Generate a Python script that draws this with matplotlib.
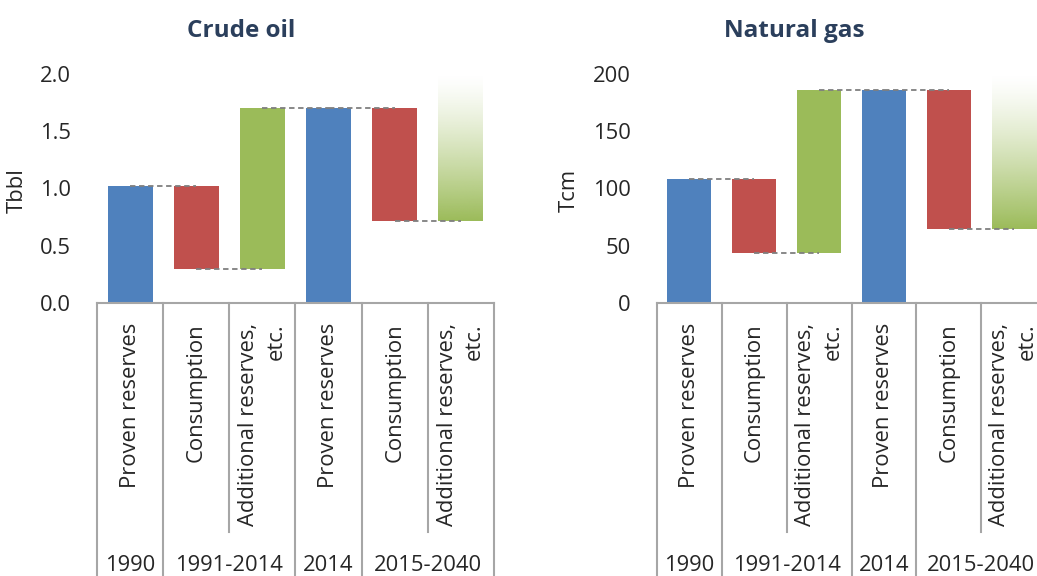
import numpy as np
import matplotlib
matplotlib.use("Agg")
import matplotlib.pyplot as plt
from matplotlib.colors import to_rgb

plt.rcParams['font.family'] = ['Open Sans', 'DejaVu Sans']

# Data: waterfall steps (bottom, top) for each category
categories = ["Proven reserves", "Consumption", "Additional reserves,\netc.",
              "Proven reserves", "Consumption", "Additional reserves,\netc."]
periods = ["1990", "1991-2014", "2014", "2015-2040"]
period_pos = [0, 1.5, 3, 4.5]

oil_bottom = [0.0, 0.30, 0.30, 0.0, 0.72, 0.72]
oil_top = [1.02, 1.02, 1.70, 1.70, 1.70, 2.0]
gas_bottom = [0, 44, 44, 0, 65, 65]
gas_top = [108, 108, 186, 186, 186, 200]
# running total after each bar (level where the connector sits)
oil_levels = [1.02, 0.30, 1.70, 1.70, 0.72]
gas_levels = [108, 44, 186, 186, 65]

oil_ticks = [0.0, 0.5, 1.0, 1.5, 2.0]
gas_ticks = [0, 50, 100, 150, 200]

blue = '#4F81BD'
red = '#C0504D'
green = '#9BBB59'
kinds = ['start', 'down', 'up', 'start', 'down', 'fade']
colors = {'start': blue, 'down': red, 'up': green}

W, H = 1037, 576
fig = plt.figure(figsize=(W / 100, H / 100), dpi=100)

text_col = '#262626'
line_col = '#A6A6A6'
fs = 15.8


def draw(ax, bottoms, tops, levels, ticks, fmt, ylabel, lab_x):
    width = 0.68
    for i, (b, t) in enumerate(zip(bottoms, tops)):
        if kinds[i] == 'fade':
            rgb = np.array(to_rgb(green))
            n = 256
            a = np.linspace(1, 0, n) ** 1.3
            img = np.ones((n, 1, 4))
            img[:, 0, :3] = rgb
            img[:, 0, 3] = a
            ax.imshow(img, extent=[i - width / 2, i + width / 2, b, t],
                      origin='lower', aspect='auto', zorder=2)
        else:
            ax.bar(i, t - b, bottom=b, width=width, color=colors[kinds[i]],
                   zorder=2)
    for i, lv in enumerate(levels):
        ax.plot([i, i + 1], [lv, lv], ls=(0, (3, 2)), color='#7F7F7F',
                lw=1.3, zorder=3)

    ax.set_xlim(-0.5, 5.5)
    ax.set_ylim(ticks[0], ticks[-1])
    ax.set_yticks(ticks)
    ax.set_yticklabels([fmt.format(v) for v in ticks], fontsize=fs,
                       color=text_col)
    ax.tick_params(axis='y', length=0, pad=19)
    ax.set_xticks([])
    for s in ['left', 'right', 'top']:
        ax.spines[s].set_visible(False)
    ax.spines['bottom'].set_color(line_col)
    ax.spines['bottom'].set_linewidth(1.5)
    ax.set_ylabel(ylabel, fontsize=fs, color=text_col)
    ax.yaxis.set_label_coords(lab_x, 0.49)

    tr = ax.get_xaxis_transform()
    for x in [-0.5, 0.5, 2.5, 3.5, 5.5]:
        ax.plot([x, x], [0, -1.3], transform=tr, color=line_col, lw=1.5,
                clip_on=False)
    for x in [1.5, 4.5]:
        ax.plot([x, x], [0, -1.0], transform=tr, color=line_col, lw=1.5,
                clip_on=False)
    for i, c in enumerate(categories):
        ax.text(i, -0.087, c, transform=tr, rotation=90, ha='center',
                va='top', multialignment='right', fontsize=fs,
                color=text_col, linespacing=1.4)
    for p, lab in zip(period_pos, periods):
        ax.text(p, -1.10, lab, transform=tr, ha='center', va='top',
                fontsize=fs, color=text_col)


ax1 = fig.add_axes([97 / W, (H - 303) / H, 397 / W, 229 / H])
draw(ax1, oil_bottom, oil_top, oil_levels, oil_ticks, '{:.1f}', 'Tbbl', -0.174)

ax2 = fig.add_axes([657 / W, (H - 303) / H, 389 / W, 229 / H])
draw(ax2, gas_bottom, gas_top, gas_levels, gas_ticks, '{:d}', 'Tcm', -0.198)

title_col = '#2B3F5C'
fig.text(241 / W, 1 - 31 / H, 'Crude oil', ha='center', va='center',
         fontsize=17.5, fontweight='bold', color=title_col)
fig.text(794 / W, 1 - 31 / H, 'Natural gas', ha='center', va='center',
         fontsize=17.5, fontweight='bold', color=title_col)

fig.savefig('out.png', dpi=100)
